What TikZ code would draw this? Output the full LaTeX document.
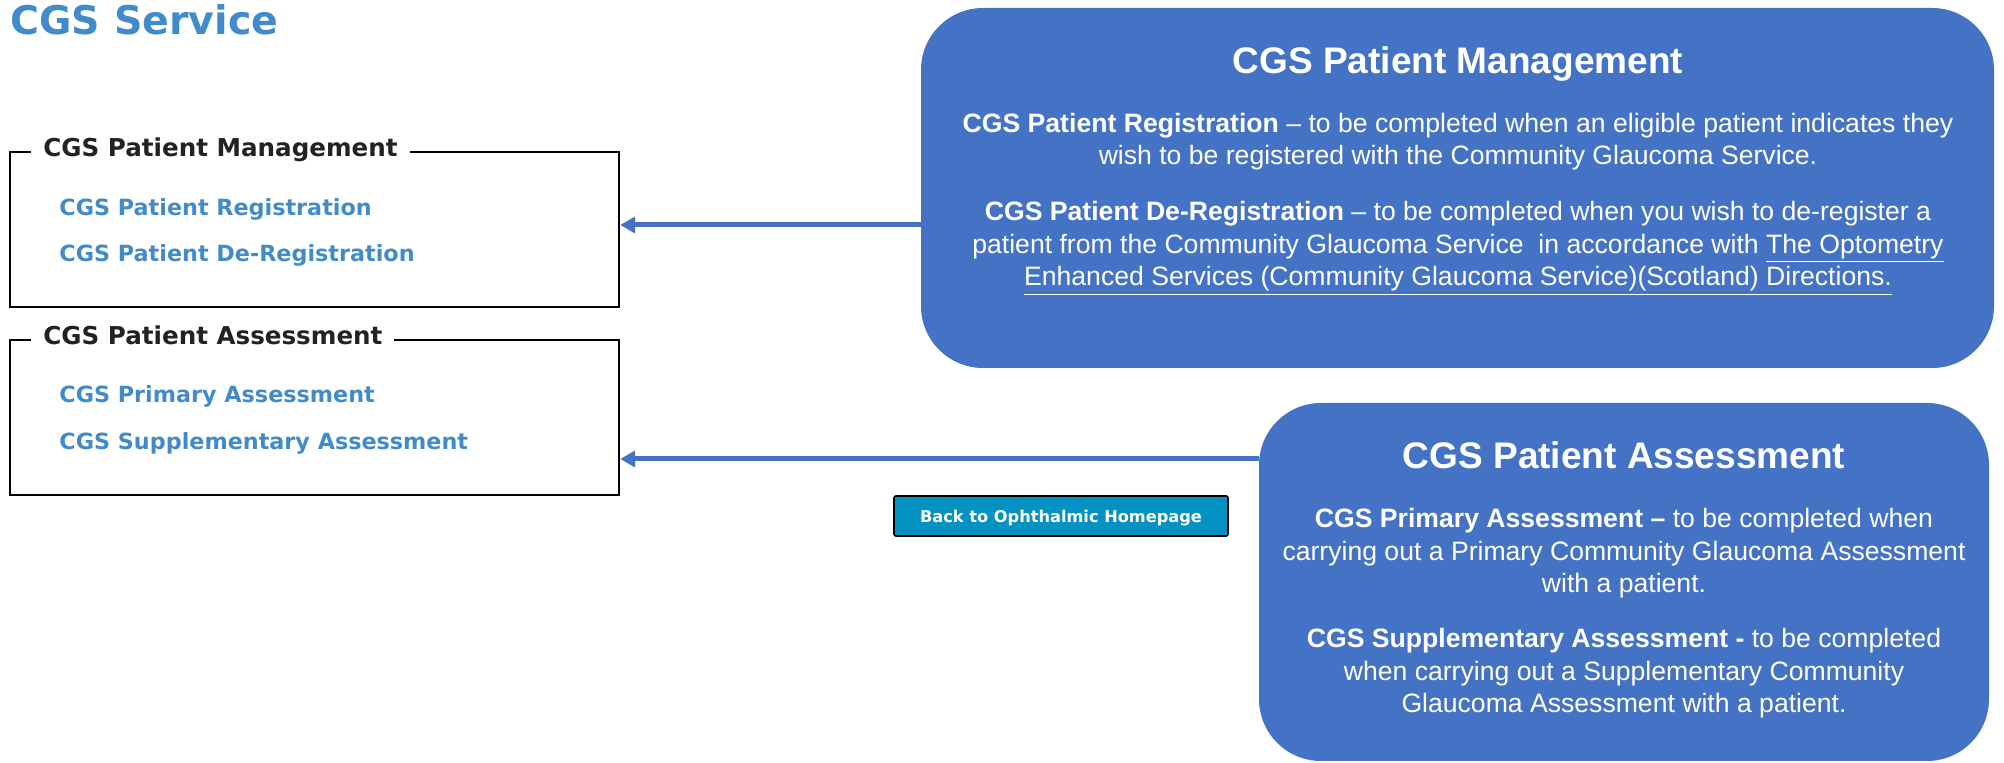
\documentclass[tikz,border=0pt]{standalone}
\usepackage{fontspec}
\usetikzlibrary{arrows.meta}
\newfontfamily\webfont{DejaVu Sans}
\newfontfamily\slidefont{Liberation Sans}
\newlength{\du}
\setlength{\du}{0.5pt}
\definecolor{linkblue}{RGB}{66,139,202}
\definecolor{legendgrey}{RGB}{34,34,34}
\definecolor{boxblue}{RGB}{68,114,196}
\definecolor{buttonblue}{RGB}{4,146,195}
\tikzset{
  fieldset/.style={draw=black, line width=2.4\du, inner sep=0pt, minimum width=609\du, minimum height=155\du},
  fieldlegend/.style={fill=white, inner xsep=12\du, inner ysep=2\du, anchor=base west, text=legendgrey,
    font=\webfont\bfseries\fontsize{12.3pt}{14pt}\selectfont},
  weblink/.style={inner sep=0pt, anchor=base west, text=linkblue,
    font=\webfont\bfseries\fontsize{11.15pt}{13pt}\selectfont},
  slidebox/.style={fill=boxblue, rounded corners=62\du, inner sep=0pt},
  slidetitle/.style={anchor=base, inner sep=0pt, text=white,
    font=\slidefont\bfseries\fontsize{18.5pt}{22pt}\selectfont},
  slidetext/.style={anchor=base, inner sep=0pt, align=center, text=white,
    font=\slidefont\fontsize{13.3pt}{16.3pt}\selectfont},
  homebutton/.style={draw=black, fill=buttonblue, line width=1.6\du, rounded corners=2\du,
    minimum width=334\du, minimum height=40\du, text height=13\du, text depth=0pt, inner sep=0pt,
    text=white, font=\webfont\bfseries\fontsize{8.1pt}{10pt}\selectfont},
  pointer/.style={draw=boxblue, line width=2.5pt, -{Triangle[length=7.5pt, width=8pt]}},
}

\begin{document}
\begin{tikzpicture}
\pgftransformxscale{1.000000}
\pgftransformyscale{-1.000000}
\useasboundingbox (0\du,0\du) rectangle (2004\du,763\du);
% page heading
\node[anchor=base west, inner sep=0pt, text=linkblue, font=\webfont\bfseries\fontsize{19.75pt}{24pt}\selectfont]
  (pagetitle) at (10.000000\du,35.000000\du) {CGS Service};
% fieldsets on the left
\node[fieldset] (mgmtframe) at (314.500000\du,229.500000\du) {};
\node[fieldlegend] (mgmtlegend) at (31.000000\du,157.000000\du) {CGS Patient Management};
\node[weblink] (regLink) at (59.000000\du,216.000000\du) {CGS Patient Registration};
\node[weblink] (deregLink) at (59.000000\du,262.000000\du) {CGS Patient De-Registration};
\node[fieldset] (assessframe) at (314.500000\du,417.500000\du) {};
\node[fieldlegend] (assesslegend) at (31.000000\du,345.000000\du) {CGS Patient Assessment};
\node[weblink] (primaryLink) at (59.000000\du,403.000000\du) {CGS Primary Assessment};
\node[weblink] (suppLink) at (59.000000\du,450.000000\du) {CGS Supplementary Assessment};
\node[homebutton] (homeButton) at (1061.000000\du,516.000000\du) {Back to Ophthalmic Homepage};
% blue boxes, paragraph nodes sit on their last baseline
\node[slidebox, minimum width=1073\du, minimum height=360\du] (mgmtbox) at (1457.500000\du,188.000000\du) {};
\node[slidebox, minimum width=730\du, minimum height=358\du] (assessbox) at (1624.000000\du,582.000000\du) {};
\node[slidetitle] (mgmttitle) at (1458.000000\du,74.000000\du) {CGS Patient Management};
\node[slidetext] (regText) at (1458.000000\du,165.000000\du)
  {\textbf{CGS Patient Registration} – to be completed when an eligible patient indicates they\\
   wish to be registered with the Community Glaucoma Service.};
\node[slidetext] (deregText) at (1458.000000\du,286.000000\du)
  {\textbf{CGS Patient De-Registration} – to be completed when you wish to de-register a\\
   patient from the Community Glaucoma Service~ in accordance with \underline{The Optometry}\\
   \underline{Enhanced Services (Community Glaucoma Service)(Scotland) Directions.}};
\node[slidetitle] (assesstitle) at (1624.000000\du,469.000000\du) {CGS Patient Assessment};
\node[slidetext] (primaryText) at (1624.000000\du,593.000000\du)
  {\textbf{CGS Primary Assessment –} to be completed when\\
   carrying out a Primary Community Glaucoma Assessment\\
   with a patient.};
\node[slidetext] (suppText) at (1624.000000\du,713.000000\du)
  {\textbf{CGS Supplementary Assessment -} to be completed\\
   when carrying out a Supplementary Community\\
   Glaucoma Assessment with a patient.};
% arrows back to the fieldsets
\coordinate (mgmtlevel) at (0\du,225.000000\du);
\coordinate (assesslevel) at (0\du,459.000000\du);
\draw[pointer] (mgmtbox.west |- mgmtlevel) -- (mgmtframe.east |- mgmtlevel);
\draw[pointer] (assessbox.west |- assesslevel) -- (assessframe.east |- assesslevel);
\end{tikzpicture}
\end{document}
